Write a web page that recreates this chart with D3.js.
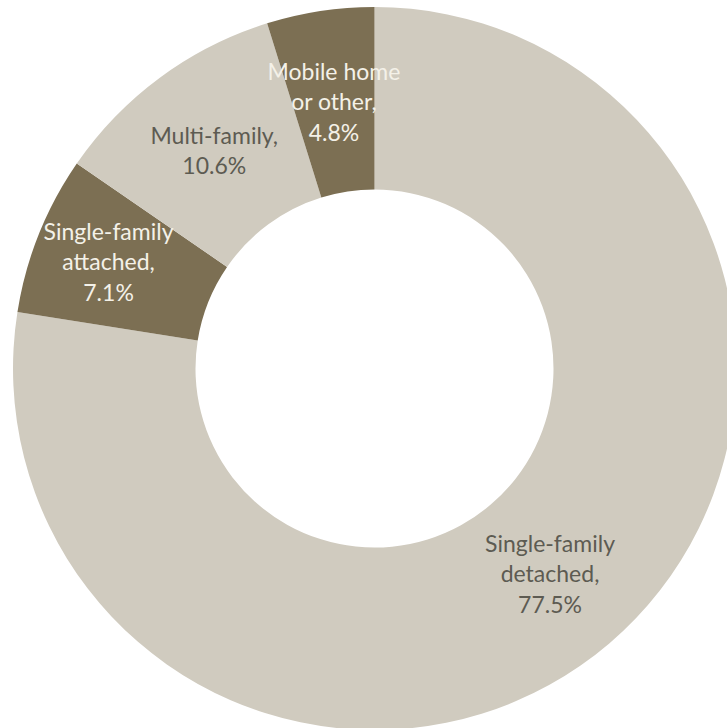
<!DOCTYPE html>
<html>
<head>
<meta charset="utf-8">
<script src="https://cdn.jsdelivr.net/npm/d3@7"></script>
<style>
  html, body { margin: 0; padding: 0; background: #ffffff; }
  svg { display: block; }
</style>
</head>
<body>
<svg id="chart" width="727" height="728"></svg>
<script>
// Housing stock by structure type (share of units, %)
const categories = [
  "Single-family detached",
  "Single-family attached",
  "Multi-family",
  "Mobile home or other"
];
const values = [77.5, 7.1, 10.6, 4.8];
const labelLines = [
  ["Single-family", "detached,", "77.5%"],
  ["Single-family", "attached,", "7.1%"],
  ["Multi-family,", "10.6%"],
  ["Mobile home", "or other,", "4.8%"]
];
const sliceColors = ["#d0cbbf", "#7c6f53", "#d0cbbf", "#7c6f53"];
const labelColors = ["#5d5b52", "#f4f1e8", "#5d5b52", "#f4f1e8"];

const width = 727, height = 728;
const cx = 374.5, cy = 368.5;
const outerR = 361.5, innerR = 179;

const svg = d3.select("#chart");
const g = svg.append("g").attr("transform", `translate(${cx},${cy})`);

const data = categories.map((c, i) => ({ name: c, value: values[i], i }));

const pie = d3.pie()
  .value(d => d.value)
  .sort(null)
  .startAngle(0)
  .endAngle(2 * Math.PI);

const arc = d3.arc().innerRadius(innerR).outerRadius(outerR);
const arcs = pie(data);

g.selectAll("path.slice")
  .data(arcs)
  .join("path")
  .attr("class", "slice")
  .attr("d", arc)
  .attr("fill", d => sliceColors[d.data.i]);

// Labels at slice centroids, multi-line
const fontSize = 23;
const lineH = 30.5;
// the attached label sits a bit further out toward the left edge
const nudge = [[0, 0], [-15, -6], [0, 0], [0, 1]];

const labels = g.selectAll("text.lbl")
  .data(arcs)
  .join("text")
  .attr("class", "lbl")
  .attr("text-anchor", "middle")
  .attr("font-family", "Lato, 'Open Sans', sans-serif")
  .attr("font-size", fontSize)
  .attr("fill", d => labelColors[d.data.i])
  .attr("transform", d => {
    const [x, y] = arc.centroid(d);
    const n = nudge[d.data.i];
    return `translate(${x + n[0]},${y + n[1]})`;
  });

labels.each(function(d) {
  const lines = labelLines[d.data.i];
  const t = d3.select(this);
  const y0 = -((lines.length - 1) * lineH) / 2;
  lines.forEach((ln, k) => {
    t.append("tspan")
      .attr("x", 0)
      .attr("y", y0 + k * lineH)
      .attr("dy", "0.35em")
      .text(ln);
  });
});
</script>
</body>
</html>
